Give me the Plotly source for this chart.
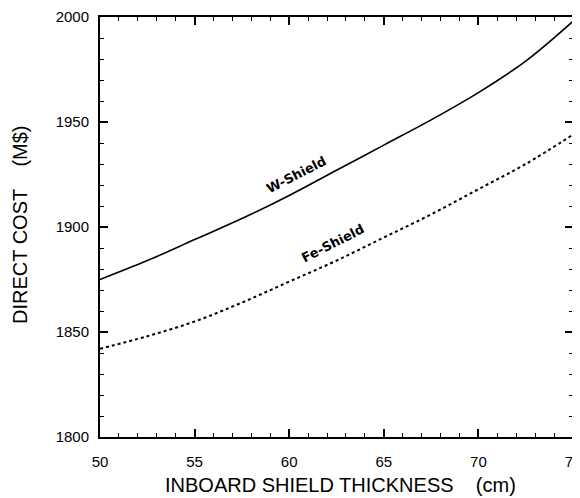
import plotly.graph_objects as go

thickness = [50, 52.5, 55, 57.5, 60, 62.5, 65, 67.5, 70, 72.5, 75]
w_shield = [1875, 1884, 1894, 1904, 1915, 1927, 1939, 1951, 1964, 1979, 1998]
fe_shield = [1842, 1848, 1855, 1864, 1874, 1884, 1895, 1906, 1918, 1930, 1944]

x_ticks = [50, 55, 60, 65, 70, 75]
y_ticks = [1800, 1850, 1900, 1950, 2000]

font_main = "Liberation Sans, Arial, sans-serif"
font_lbl = "DejaVu Sans, sans-serif"

# page has an 8px body margin; plot area in page pixels: x 100..573, y 17..437
OFF = 8
W, H = 580, 490
L, T = 100 - OFF, 17 - OFF
R = W - (573 - OFF)
B = H - (437 - OFF)
pw, ph = W - L - R, H - T - B


def px(xp):
    return (xp - OFF - L) / pw


def py(yp):
    return (H - B - (yp - OFF)) / ph


fig = go.Figure()
fig.add_trace(go.Scatter(x=thickness, y=w_shield, mode="lines", name="W-Shield",
                         line=dict(color="black", width=1.6, shape="spline")))
fig.add_trace(go.Scatter(x=thickness, y=fe_shield, mode="lines", name="Fe-Shield",
                         line=dict(color="black", width=2, dash="dot", shape="spline")))

axis_common = dict(showgrid=False, zeroline=False, showline=True, linecolor="black",
                   linewidth=2, mirror="ticks", ticks="inside", tickcolor="black",
                   tickwidth=1.5, ticklen=8,
                   tickfont=dict(family=font_main, size=15, color="black"))

fig.update_xaxes(range=[50, 75], tickvals=x_ticks, ticktext=[str(v) for v in x_ticks],
                 ticklabelstandoff=10,
                 minor=dict(dtick=1, ticks="inside", ticklen=4, tickcolor="black", tickwidth=1),
                 **axis_common)
fig.update_yaxes(range=[1800, 2000], tickvals=y_ticks, ticktext=[str(v) for v in y_ticks],
                 ticklabelstandoff=6,
                 minor=dict(dtick=10, ticks="inside", ticklen=4, tickcolor="black", tickwidth=1),
                 **axis_common)

fig.add_annotation(text="W-Shield", x=60.4, y=1925, xref="x", yref="y", showarrow=False,
                   textangle=-27, font=dict(family=font_lbl, size=13, color="black", weight="bold"))
fig.add_annotation(text="Fe-Shield", x=62.3, y=1892, xref="x", yref="y", showarrow=False,
                   textangle=-27, font=dict(family=font_lbl, size=13, color="black", weight="bold"))

fig.add_annotation(text="INBOARD SHIELD THICKNESS\u00a0\u00a0\u00a0\u00a0(cm)",
                   x=px(340), y=py(485), xref="paper", yref="paper",
                   xanchor="center", yanchor="middle",
                   showarrow=False, font=dict(family=font_main, size=20, color="black"))
fig.add_annotation(text="DIRECT COST\u00a0\u00a0\u00a0\u00a0(M$)",
                   x=px(20), y=py(225), xref="paper", yref="paper",
                   xanchor="center", yanchor="middle",
                   showarrow=False, textangle=-90,
                   font=dict(family=font_main, size=20, color="black"))

fig.update_layout(width=W, height=H, margin=dict(l=L, r=R, t=T, b=B, autoexpand=False),
                  plot_bgcolor="white", paper_bgcolor="white", showlegend=False)

fig.write_html("out.html")
